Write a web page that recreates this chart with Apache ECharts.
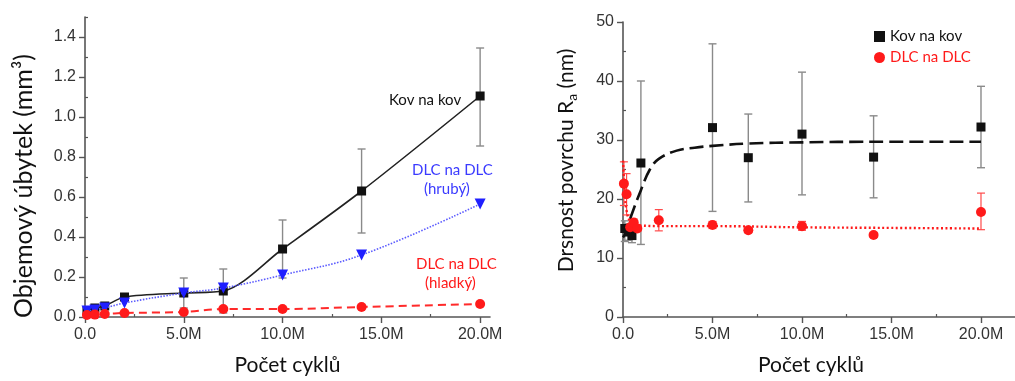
<!DOCTYPE html>
<html>
<head>
<meta charset="utf-8">
<script src="https://cdn.jsdelivr.net/npm/echarts@6/dist/echarts.min.js"></script>
<style>
  html, body { margin: 0; padding: 0; background: #fff; }
  #chart { width: 1015px; height: 381px; }
</style>
</head>
<body>
<div id="chart"></div>
<script>
// ---- Left panel: volume loss vs. number of cycles (millions) ----
const wearCycles   = [0.1, 0.5, 1, 2, 5, 7, 10, 14, 20];
const wearKov      = [0.03, 0.045, 0.055, 0.10, 0.12, 0.13, 0.34, 0.63, 1.105];
const wearHruby    = [0.03, 0.035, 0.045, 0.07, 0.12, 0.145, 0.21, 0.31, 0.565];
const wearHladky   = [0.01, 0.012, 0.015, 0.02, 0.025, 0.04, 0.04, 0.05, 0.065];
const wearErrCycles = [5, 7, 10, 14, 20];
const wearErrLow    = [0.045, 0.02, 0.195, 0.42, 0.855];
const wearErrHigh   = [0.195, 0.24, 0.485, 0.84, 1.345];

// ---- Right panel: surface roughness Ra vs. number of cycles (millions) ----
const raKovCycles = [0.1, 0.3, 0.5, 1, 5, 7, 10, 14, 20];
const raKov       = [15.0, 14.4, 13.8, 26.1, 32.1, 27.0, 31.0, 27.1, 32.2];
const raKovLow    = [12.8, 13.0, 12.6, 12.3, 17.9, 19.5, 20.7, 20.2, 25.3];
const raKovHigh   = [16.3, 15.8, 15.0, 40.0, 46.3, 34.4, 41.5, 34.1, 39.1];
const raDlcCycles = [0.05, 0.2, 0.4, 0.6, 0.8, 2, 5, 7, 10, 14, 20];
const raDlc       = [22.6, 20.8, 15.2, 16.0, 15.0, 16.4, 15.6, 14.7, 15.4, 13.9, 17.8];
const raDlcLow    = [18.9, 17.3, 14.7, 15.4, 14.5, 14.6, 15.0, 14.3, 14.7, 13.5, 14.8];
const raDlcHigh   = [26.3, 24.3, 15.7, 16.6, 15.5, 18.2, 16.2, 15.1, 16.2, 14.3, 21.0];
// fitted trend curves
const raKovFitCycles = [0, 0.1, 0.5, 1, 1.5, 2, 3, 4, 5, 7, 10, 14, 20];
const raKovFit       = [13.5, 14.0, 17.5, 21.5, 25.0, 26.8, 28.2, 28.7, 29.0, 29.4, 29.6, 29.7, 29.7];
const raDlcFitCycles = [0, 0.1, 0.2, 0.4, 0.7, 1, 2, 5, 10, 15, 20];
const raDlcFit       = [26.5, 21.0, 18.0, 16.2, 15.6, 15.5, 15.4, 15.4, 15.2, 15.1, 15.0];

// ---- Tick values ----
const xMajorTicks  = [0, 5, 10, 15, 20];
const xMinorTicks  = [2.5, 7.5, 12.5, 17.5];
const wearMajorTicks = [0, 0.2, 0.4, 0.6, 0.8, 1.0, 1.2, 1.4];
const wearMinorTicks = [0.1, 0.3, 0.5, 0.7, 0.9, 1.1, 1.3, 1.5];
const raMajorTicks = [0, 10, 20, 30, 40, 50];
const raMinorTicks = [5, 15, 25, 35, 45];

const zip = (xs, ys) => xs.map((x, i) => [x, ys[i]]);
const zip3 = (xs, a, b) => xs.map((x, i) => [x, a[i], b[i]]);

const AXIS_COLOR = '#555';
const LABEL_FONT = 'Liberation Sans, Arial, sans-serif';
const TITLE_FONT = 'Lato, Open Sans, sans-serif';
const LABEL_STYLE = { color: '#333', fontFamily: LABEL_FONT, fontSize: 16 };

function cycleLabel(v) { return v === 0 ? '0.0' : v.toFixed(1) + 'M'; }

function majorAxis(extra) {
  return Object.assign({
    type: 'value',
    splitLine: { show: false },
    axisLine: { show: true, lineStyle: { color: AXIS_COLOR, width: 1.6 } },
    axisTick: { show: true, length: 6, lineStyle: { color: AXIS_COLOR, width: 1.4 } },
    nameTextStyle: { color: '#111', fontFamily: TITLE_FONT }
  }, extra);
}
function minorAxis(extra) {
  return Object.assign({
    type: 'value',
    splitLine: { show: false },
    axisLine: { show: false },
    axisLabel: { show: false },
    axisTick: { show: true, length: 3, lineStyle: { color: AXIS_COLOR, width: 1.2 } }
  }, extra);
}
function ticks(values, len) {
  return { show: true, length: len, customValues: values, lineStyle: { color: AXIS_COLOR, width: len > 4 ? 1.4 : 1.2 } };
}
function labels(values, formatter, margin) {
  return Object.assign({ customValues: values, formatter, margin }, LABEL_STYLE);
}

function errorBars(color, cap, width) {
  return function (params, api) {
    const x = api.value(0);
    const lo = api.coord([x, api.value(1)]);
    const hi = api.coord([x, api.value(2)]);
    const style = { stroke: color, lineWidth: width };
    return {
      type: 'group',
      children: [
        { type: 'line', shape: { x1: lo[0], y1: lo[1], x2: hi[0], y2: hi[1] }, style },
        { type: 'line', shape: { x1: lo[0] - cap, y1: lo[1], x2: lo[0] + cap, y2: lo[1] }, style },
        { type: 'line', shape: { x1: hi[0] - cap, y1: hi[1], x2: hi[0] + cap, y2: hi[1] }, style }
      ]
    };
  };
}

const chart = echarts.init(document.getElementById('chart'), null, { renderer: 'canvas' });

const option = {
  animation: false,
  backgroundColor: '#fff',
  grid: [
    { left: 85, top: 17, width: 405, height: 300 },
    { left: 623, top: 22, width: 392, height: 298 }
  ],
  xAxis: [
    majorAxis({
      gridIndex: 0, min: 0, max: 20.5,
      axisTick: ticks(xMajorTicks, 6),
      axisLabel: labels(xMajorTicks, cycleLabel, 10),
      name: 'Počet cyklů', nameLocation: 'middle', nameGap: 38,
      nameTextStyle: { color: '#111', fontFamily: TITLE_FONT, fontSize: 21 }
    }),
    minorAxis({ gridIndex: 0, min: 0, max: 20.5, axisTick: ticks(xMinorTicks, 3) }),
    majorAxis({
      gridIndex: 1, min: 0, max: 21.9,
      axisTick: ticks(xMajorTicks, 6),
      axisLabel: labels(xMajorTicks, cycleLabel, 10),
      name: 'Počet cyklů', nameLocation: 'middle', nameGap: 38,
      nameTextStyle: { color: '#111', fontFamily: TITLE_FONT, fontSize: 21, padding: [0, 16, 0, 0] }
    }),
    minorAxis({ gridIndex: 1, min: 0, max: 21.9, axisTick: ticks(xMinorTicks, 3) })
  ],
  yAxis: [
    majorAxis({
      gridIndex: 0, min: 0, max: 1.5,
      axisTick: ticks(wearMajorTicks, 6),
      axisLabel: labels(wearMajorTicks, v => v.toFixed(1), 9),
      name: 'Objemový úbytek (mm³)', nameLocation: 'middle', nameRotate: 90, nameGap: 49,
      nameTextStyle: { color: '#111', fontFamily: TITLE_FONT, fontSize: 25, padding: [0, 38, 0, 0] }
    }),
    minorAxis({ gridIndex: 0, min: 0, max: 1.5, axisTick: ticks(wearMinorTicks, 3) }),
    majorAxis({
      gridIndex: 1, min: 0, max: 50,
      axisTick: ticks(raMajorTicks, 6),
      axisLabel: labels(raMajorTicks, v => String(v), 9),
      name: '{t|Drsnost povrchu R}{s|a}{t| (nm)}', nameLocation: 'middle', nameRotate: 90, nameGap: 44,
      nameTextStyle: {
        color: '#111', fontFamily: TITLE_FONT, fontSize: 21, padding: [0, 0, 0, 18],
        rich: {
          t: { color: '#111', fontFamily: TITLE_FONT, fontSize: 21, lineHeight: 26, verticalAlign: 'middle' },
          s: { color: '#111', fontFamily: TITLE_FONT, fontSize: 14, lineHeight: 26, verticalAlign: 'bottom', padding: [10, 0, 0, 0] }
        }
      }
    }),
    minorAxis({ gridIndex: 1, min: 0, max: 50, axisTick: ticks(raMinorTicks, 3) })
  ],
  legend: {
    selectedMode: false,
    orient: 'vertical',
    left: 869, top: 24,
    itemWidth: 11, itemHeight: 11, itemGap: 6,
    textStyle: { fontFamily: TITLE_FONT, fontSize: 15 },
    data: [
      { name: 'Kov na kov', icon: 'rect', itemStyle: { color: '#111' }, textStyle: { color: '#111' } },
      { name: 'DLC na DLC', icon: 'circle', itemStyle: { color: '#ff1a1a' }, textStyle: { color: '#ff1a1a' } }
    ]
  },
  graphic: [
    { type: 'text', left: 389, top: 93, style: { text: 'Kov na kov', fill: '#111', font: '15px ' + TITLE_FONT } },
    { type: 'text', left: 412, top: 163, style: { text: 'DLC na DLC', fill: '#3b3bff', font: '15px ' + TITLE_FONT } },
    { type: 'text', left: 424, top: 182, style: { text: '(hrubý)', fill: '#3b3bff', font: '15px ' + TITLE_FONT } },
    { type: 'text', left: 416, top: 257, style: { text: 'DLC na DLC', fill: '#ff1a1a', font: '15px ' + TITLE_FONT } },
    { type: 'text', left: 425, top: 276, style: { text: '(hladký)', fill: '#ff1a1a', font: '15px ' + TITLE_FONT } }
  ],
  series: [
    // left panel
    {
      type: 'custom', name: 'Kov na kov – chyba', xAxisIndex: 0, yAxisIndex: 0, z: 1,
      renderItem: errorBars('#8a8a8a', 4, 1.4),
      encode: { x: 0, y: [1, 2] },
      data: zip3(wearErrCycles, wearErrLow, wearErrHigh)
    },
    {
      type: 'line', name: 'Kov na kov', xAxisIndex: 0, yAxisIndex: 0, z: 3,
      data: zip(wearCycles, wearKov), smooth: 0.3,
      symbol: 'rect', symbolSize: 9,
      itemStyle: { color: '#111' },
      lineStyle: { color: '#222', width: 1.6 }
    },
    {
      type: 'line', name: 'DLC na DLC (hrubý)', xAxisIndex: 0, yAxisIndex: 0, z: 4,
      data: zip(wearCycles, wearHruby), smooth: 0.4,
      symbol: 'triangle', symbolRotate: 180, symbolSize: 11,
      itemStyle: { color: '#1f1fff' },
      lineStyle: { color: '#5a5aff', width: 1.6, type: [1.5, 1.5] }
    },
    {
      type: 'line', name: 'DLC na DLC (hladký)', xAxisIndex: 0, yAxisIndex: 0, z: 5,
      data: zip(wearCycles, wearHladky), smooth: 0.3,
      symbol: 'circle', symbolSize: 10,
      itemStyle: { color: '#ff1a1a' },
      lineStyle: { color: '#ff2a2a', width: 2, type: [8, 5] }
    },
    // right panel
    {
      type: 'custom', name: 'Kov na kov – chyba Ra', xAxisIndex: 2, yAxisIndex: 2, z: 1,
      renderItem: errorBars('#8a8a8a', 4, 1.4),
      encode: { x: 0, y: [1, 2] },
      data: zip3(raKovCycles, raKovLow, raKovHigh)
    },
    {
      type: 'custom', name: 'DLC na DLC – chyba Ra', xAxisIndex: 2, yAxisIndex: 2, z: 1,
      renderItem: errorBars('#ff4a4a', 4, 1.2),
      encode: { x: 0, y: [1, 2] },
      data: zip3(raDlcCycles, raDlcLow, raDlcHigh)
    },
    {
      type: 'line', name: 'Kov na kov – trend', xAxisIndex: 2, yAxisIndex: 2, z: 2,
      data: zip(raKovFitCycles, raKovFit), smooth: 0.4, showSymbol: false,
      lineStyle: { color: '#111', width: 2.6, type: [14, 6] }
    },
    {
      type: 'line', name: 'DLC na DLC – trend', xAxisIndex: 2, yAxisIndex: 2, z: 2,
      data: zip(raDlcFitCycles, raDlcFit), smooth: 0.4, showSymbol: false,
      lineStyle: { color: '#ff1a1a', width: 2.4, type: [2, 2.5] }
    },
    {
      type: 'scatter', name: 'Kov na kov', xAxisIndex: 2, yAxisIndex: 2, z: 3,
      data: zip(raKovCycles, raKov),
      symbol: 'rect', symbolSize: 9,
      itemStyle: { color: '#111', opacity: 1 }
    },
    {
      type: 'scatter', name: 'DLC na DLC', xAxisIndex: 2, yAxisIndex: 2, z: 4,
      data: zip(raDlcCycles, raDlc),
      symbol: 'circle', symbolSize: 10,
      itemStyle: { color: '#ff1a1a', opacity: 1 }
    }
  ]
};

chart.setOption(option);
</script>
</body>
</html>
